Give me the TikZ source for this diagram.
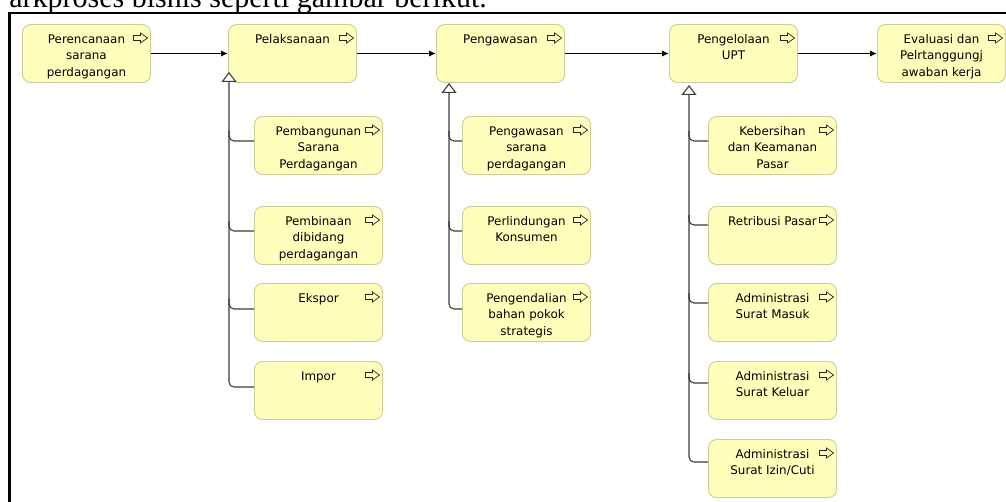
\documentclass[tikz,border=0pt]{standalone}
\usepackage{fontspec}
\setmainfont{DejaVu Sans}
\newfontfamily\topserif{Liberation Serif}
\usetikzlibrary{arrows.meta}
\definecolor{boxfill}{RGB}{255,255,187}
\definecolor{boxline}{RGB}{205,205,150}
\definecolor{trunkgray}{RGB}{60,60,60}
\tikzset{
  box/.style={draw=boxline, fill=boxfill, line width=0.9pt, rounded corners=8pt,
    minimum width=128pt, minimum height=58pt, inner sep=0pt},
  btxt/.style={anchor=north, inner sep=0pt, align=center,
    font=\fontsize{11.9}{16.5}\selectfont, text=black},
  icon/.style={draw=black!85, fill=boxfill, line width=0.7pt, line join=miter},
  mainconn/.style={draw=black, line width=1.1pt, -{Latex[length=7pt,width=6pt]}},
  trunk/.style={draw=trunkgray, line width=1.1pt, rounded corners=5pt},
  opentri/.style={{Triangle[length=10pt,width=15pt,fill=white]}-}
}
\newcommand\mybox[4]{%
  \node[box] (#1) at ({#2+64.5},{#3+29.5}) {};
  \node[btxt] (#1t) at ({#2+64.5},{#3+7.45}) {\strut #4};
  \draw[icon] ({#2+129-10.5-7},{#3+14-2.5}) -- ++(7,0) -- ++(0,-2.5) -- ++(7,5)
     -- ++(-7,5) -- ++(0,-2.5) -- ++(-7,0) -- cycle;
}
\begin{document}
\begin{tikzpicture}[x=1pt,y=-1pt]
\clip (0,0) rectangle (1006,502);
\fill[white] (0,0) rectangle (1006,502);
% heading line (cut off)
\node[anchor=base east, inner sep=0pt, font=\topserif\fontsize{30}{34}\selectfont] (head) at (487,7.5) {arkproses bisnis seperti gambar berikut.};
% frame
\draw[line width=2.5pt] (9.25,13.25) rectangle (1030,530);
% top row
\mybox{b1}{22}{24}{Perencanaan\\sarana\\perdagangan}
\mybox{b2}{228}{24}{Pelaksanaan}
\mybox{b3}{436}{24}{Pengawasan}
\mybox{b4}{669}{24}{Pengelolaan\\UPT}
\mybox{b5}{877}{24}{Evaluasi dan\\Pelrtanggungj\\awaban kerja}
\draw[mainconn] (b1) -- (b2);
\draw[mainconn] (b2) -- (b3);
\draw[mainconn] (b3) -- (b4);
\draw[mainconn] (b4) -- (b5);
% column 1
\mybox{a1}{254}{116}{Pembangunan\\Sarana\\Perdagangan}
\mybox{a2}{254}{206}{Pembinaan\\dibidang\\perdagangan}
\mybox{a3}{254}{283}{Ekspor}
\mybox{a4}{254}{361}{Impor}
% column 2
\mybox{c1}{462}{116}{Pengawasan\\sarana\\perdagangan}
\mybox{c2}{462}{206}{Perlindungan\\Konsumen}
\mybox{c3}{462}{283}{Pengendalian\\bahan pokok\\strategis}
% column 3
\mybox{d1}{708}{116}{Kebersihan\\dan Keamanan\\Pasar}
\mybox{d2}{708}{206}{Retribusi Pasar}
\mybox{d3}{708}{283}{Administrasi\\Surat Masuk}
\mybox{d4}{708}{361}{Administrasi\\Surat Keluar}
\mybox{d5}{708}{439}{Administrasi\\Surat Izin/Cuti}
% junction coordinates
\coordinate (ja1) at (254,141);
\coordinate (ja2) at (254,231);
\coordinate (ja3) at (254,309);
\coordinate (ja4) at (254,387);
\coordinate (jc1) at (462,141);
\coordinate (jc2) at (462,231);
\coordinate (jc3) at (462,309);
\coordinate (jd1) at (708,141);
\coordinate (jd2) at (708,225);
\coordinate (jd3) at (708,303);
\coordinate (jd4) at (708,383);
\coordinate (jd5) at (708,462);
\coordinate (ta) at (229,72);
\coordinate (tc) at (449,83);
\coordinate (td) at (689,85);
% column 1 connectors
\draw[trunk] (229,131) |- (ja1);
\draw[trunk] (229,221) |- (ja2);
\draw[trunk] (229,299) |- (ja3);
\draw[trunk, opentri] (ta) |- (ja4);
% column 2 connectors
\draw[trunk] (449,131) |- (jc1);
\draw[trunk] (449,221) |- (jc2);
\draw[trunk, opentri] (tc) |- (jc3);
% column 3 connectors
\draw[trunk] (689,131) |- (jd1);
\draw[trunk] (689,215) |- (jd2);
\draw[trunk] (689,293) |- (jd3);
\draw[trunk] (689,373) |- (jd4);
\draw[trunk, opentri] (td) |- (jd5);
\end{tikzpicture}
\end{document}
